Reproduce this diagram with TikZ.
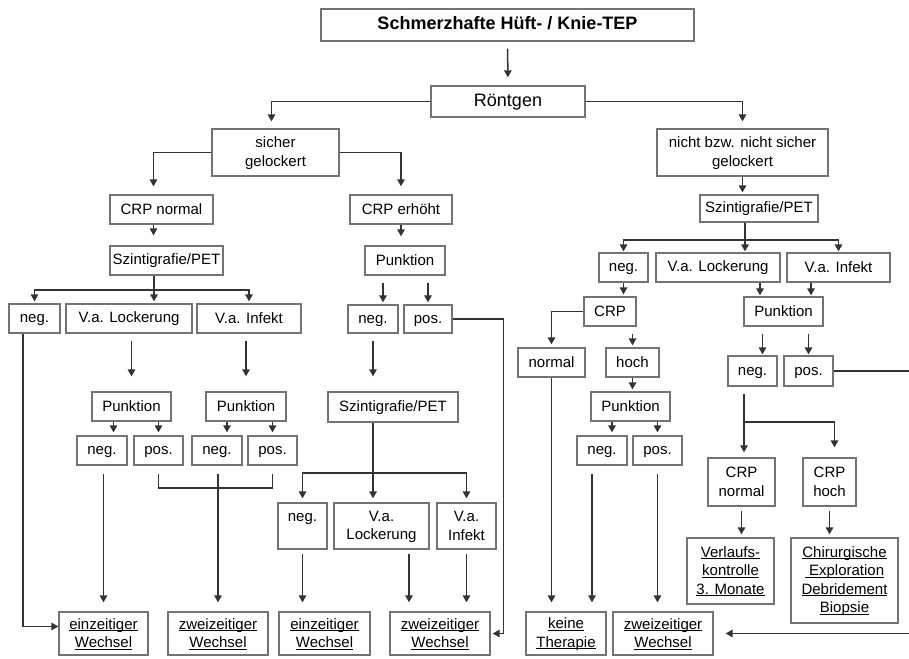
\documentclass[tikz,border=0pt]{standalone}
\usepackage{fontspec}
\setmainfont{Liberation Sans}
\usetikzlibrary{arrows.meta}
\newcommand{\fs}{\fontsize{15}{18.5}\selectfont}
\newcommand{\zs}{\rule[-2.5pt]{0pt}{14.5pt}}
\newcommand{\unterstr}[1]{\zs\underline{\smash{#1}}\vphantom{#1}}
\tikzset{
    box/.style={shape=rectangle, draw=black!55, line width=1.3pt, inner sep=0pt, align=center, font=\fs,
        execute at begin node=\zs},
    kopfbox/.style={box, font=\fontsize{18}{22}\selectfont, execute at begin node={\rule[-3.8pt]{0pt}{17.4pt}}},
    link/.style={draw=black!80, line width=1.5pt},
    flow/.style={link, -{Triangle[length=7pt,width=7.5pt]}}
}
\begin{document}
\begin{tikzpicture}[x=1pt, y=-1pt]
        \useasboundingbox (0,0) rectangle (909,658);
        % Kopf
        \node (Kopf) [kopfbox, font=\fontsize{18}{22}\selectfont\bfseries, minimum width=373pt, minimum height=32pt] at (507.5,25) {Schmerzhafte Hüft- / Knie-TEP};
        \node (Roentgen) [kopfbox, minimum width=154pt, minimum height=31pt] at (508,101.5) {Röntgen};
        \node (sicher) [box, minimum width=127pt, minimum height=47pt] at (275.5,152.5) {\zs sicher\\\zs gelockert};
        \node (nicht sicher) [box, minimum width=171pt, minimum height=47pt] at (742.5,152.5) {\zs nicht bzw. nicht sicher\\\zs gelockert};

        % linker Zweig
        \node (CRP normal) [box, minimum width=103pt, minimum height=29pt] at (161.5,209.5) {CRP normal};
        \node (Szinti L) [box, minimum width=113pt, minimum height=29pt] at (166.5,260.5) {Szintigrafie/PET};
        \node (neg L) [box, minimum width=51pt, minimum height=29pt] at (34.5,318.5) {neg.};
        \node (Lockerung L) [box, minimum width=126pt, minimum height=29pt] at (129,318.5) {V.a. Lockerung};
        \node (Infekt L) [box, minimum width=104pt, minimum height=29pt] at (249,318.5) {V.a. Infekt};
        \node (Punktion L1) [box, minimum width=79pt, minimum height=29pt] at (131.5,406.5) {Punktion};
        \node (Punktion L2) [box, minimum width=80pt, minimum height=29pt] at (246,406.5) {Punktion};
        \node (neg L1) [box, minimum width=50pt, minimum height=29pt] at (102,450.5) {neg.};
        \node (pos L1) [box, minimum width=49pt, minimum height=29pt] at (158.5,450.5) {pos.};
        \node (neg L2) [box, minimum width=50pt, minimum height=29pt] at (217,450.5) {neg.};
        \node (pos L2) [box, minimum width=49pt, minimum height=29pt] at (272.5,450.5) {pos.};

        % mittlerer Zweig
        \node (CRP erhoeht) [box, minimum width=102pt, minimum height=29pt] at (401,209.5) {CRP erhöht};
        \node (Punktion M) [box, minimum width=80pt, minimum height=29pt] at (405,260.5) {Punktion};
        \node (neg M) [box, minimum width=50pt, minimum height=28pt] at (373,319) {neg.};
        \node (pos M) [box, minimum width=48pt, minimum height=28pt] at (428,319) {pos.};
        \node (Szinti M) [box, minimum width=130pt, minimum height=30pt] at (393,407) {Szintigrafie/PET};
        \node (neg M2) [box, minimum width=49pt, minimum height=46pt] at (302.5,526) {\zs neg.\\\zs};
        \node (Lockerung M) [box, minimum width=95pt, minimum height=46pt] at (381.5,526) {\zs V.a.\\\zs Lockerung};
        \node (Infekt M) [box, minimum width=59pt, minimum height=46pt] at (466.5,526) {\zs V.a.\\\zs Infekt};

        % rechter Zweig
        \node (Szinti R) [box, minimum width=118pt, minimum height=27pt] at (759,208.5) {Szintigrafie/PET};
        \node (neg R) [box, minimum width=49pt, minimum height=29pt] at (623.5,267.5) {neg.};
        \node (Lockerung R) [box, minimum width=124pt, minimum height=29pt] at (718,267.5) {V.a. Lockerung};
        \node (Infekt R) [box, minimum width=103pt, minimum height=29pt] at (838.5,267.5) {V.a. Infekt};
        \node (CRP R) [box, minimum width=52pt, minimum height=29pt] at (610,311.5) {CRP};
        \node (normal R) [box, minimum width=67pt, minimum height=29pt] at (551.5,362.5) {normal};
        \node (hoch R) [box, minimum width=53pt, minimum height=29pt] at (632.5,362.5) {hoch};
        \node (Punktion R1) [box, minimum width=79pt, minimum height=29pt] at (630.5,406.5) {Punktion};
        \node (neg R1) [box, minimum width=50pt, minimum height=29pt] at (602,450.5) {neg.};
        \node (pos R1) [box, minimum width=49pt, minimum height=29pt] at (657.5,450.5) {pos.};
        \node (Punktion R2) [box, minimum width=79pt, minimum height=29pt] at (783.5,311.5) {Punktion};
        \node (neg R2) [box, minimum width=49pt, minimum height=30pt] at (752.5,371) {neg.};
        \node (pos R2) [box, minimum width=49pt, minimum height=30pt] at (808.5,371) {pos.};
        \node (CRP normal R) [box, minimum width=67pt, minimum height=48pt] at (741.5,482) {\zs CRP\\\zs normal};
        \node (CRP hoch R) [box, minimum width=53pt, minimum height=48pt] at (829.5,482) {\zs CRP\\\zs hoch};
        \node (Verlauf) [box, minimum width=87pt, minimum height=66pt] at (730.5,571) {\unterstr{Verlaufs-}\\\unterstr{kontrolle}\\\unterstr{3. Monate}};
        \node (Exploration) [box, minimum width=107pt, minimum height=85pt] at (844.5,580.5) {\unterstr{Chirurgische}\\\unterstr{ Exploration}\\\unterstr{Debridement}\\\unterstr{Biopsie}};

        % Endknoten
        \node (einzeitig 1) [box, minimum width=89pt, minimum height=43pt] at (103.5,633.5) {\unterstr{einzeitiger}\\\unterstr{Wechsel}};
        \node (zweizeitig 1) [box, minimum width=100pt, minimum height=43pt] at (218,633.5) {\unterstr{zweizeitiger}\\\unterstr{Wechsel}};
        \node (einzeitig 2) [box, minimum width=91pt, minimum height=43pt] at (324.5,633.5) {\unterstr{einzeitiger}\\\unterstr{Wechsel}};
        \node (zweizeitig 2) [box, minimum width=100pt, minimum height=43pt] at (440,633.5) {\unterstr{zweizeitiger}\\\unterstr{Wechsel}};
        \node (keine Therapie) [box, minimum width=80pt, minimum height=43pt] at (566,633.5) {\unterstr{keine}\\\unterstr{Therapie}};
        \node (zweizeitig 3) [box, minimum width=100pt, minimum height=43pt] at (663,633.5) {\unterstr{zweizeitiger}\\\unterstr{Wechsel}};

        \coordinate (Bus L) at (154,290);
        \coordinate (Klammer) at (214,488);
        \coordinate (Bus M) at (373,473);
        \coordinate (Bus R) at (745,240);
        \coordinate (Gabel R) at (744,422);

        % oben
        \draw [flow, shorten <=7pt, shorten >=8pt] (Kopf.south) -- (Roentgen.north);
        \draw [flow, shorten >=7pt] (Roentgen.west) -| ([xshift=-4pt]sicher.north);
        \draw [flow, shorten >=7pt] (Roentgen.east) -| (nicht sicher.north);
        \draw [flow, shorten >=8pt] (sicher.west) -| ([xshift=-8pt]CRP normal.north);
        \draw [flow, shorten >=8pt] (sicher.east) -| (CRP erhoeht.north);
        \draw [flow, shorten >=2pt] (nicht sicher.south) -- (nicht sicher.south |- Szinti R.north);

        % links
        \draw [flow, shorten >=10pt] ([xshift=-8pt]CRP normal.south) -- ([xshift=-8pt]CRP normal.south |- Szinti L.north);
        \draw [link] (Szinti L.south -| Bus L) -- (Bus L);
        \draw [flow, shorten >=2pt] (Bus L) -| (neg L.north);
        \draw [flow, shorten >=2pt] (Bus L) -- (Bus L |- Lockerung L.north);
        \draw [flow, shorten >=2pt] (Bus L) -| (Infekt L.north);
        \draw [flow, shorten <=7pt, shorten >=15pt] (Punktion L1.north |- Lockerung L.south) -- (Punktion L1.north);
        \draw [flow, shorten <=7pt, shorten >=15pt] (Punktion L2.north |- Infekt L.south) -- (Punktion L2.north);
        \draw [flow, shorten >=3pt] ([xshift=-18pt]Punktion L1.south) -- ([xshift=-18pt]Punktion L1.south |- neg L1.north);
        \draw [flow, shorten >=3pt] (pos L1.north |- Punktion L1.south) -- (pos L1.north);
        \draw [flow, shorten >=3pt] ([xshift=-19pt]Punktion L2.south) -- ([xshift=-19pt]Punktion L2.south |- neg L2.north);
        \draw [flow, shorten >=3pt] (pos L2.north |- Punktion L2.south) -- (pos L2.north);
        \draw [flow, shorten <=8pt, shorten >=9pt] (einzeitig 1.north |- neg L1.south) -- (einzeitig 1.north);
        \draw [link, shorten <=8pt, shorten >=8pt] (pos L1.south) |- (Klammer) -| (pos L2.south);
        \draw [flow, shorten <=8pt, shorten >=9pt] (zweizeitig 1.north |- neg L2.south) -- (zweizeitig 1.north);
        \draw [flow] ([xshift=-11.5pt]neg L.south) |- ([yshift=7pt]einzeitig 1.west);

        % Mitte
        \draw [flow, shorten >=9pt] (CRP erhoeht.south) -- (CRP erhoeht.south |- Punktion M.north);
        \draw [flow, shorten <=7pt, shorten >=2pt] ([xshift=-22pt]Punktion M.south) -- ([xshift=-22pt]Punktion M.south |- neg M.north);
        \draw [flow, shorten <=7pt, shorten >=2pt] (pos M.north |- Punktion M.south) -- (pos M.north);
        \draw [flow, shorten <=7pt, shorten >=15pt] (neg M.south) -- (neg M.south |- Szinti M.north);
        \draw [flow, shorten >=2pt] (pos M.east) -| ([xshift=13pt]zweizeitig 2.east) -- (zweizeitig 2.east);
        \draw [flow, shorten >=4pt] (Szinti M.south -| Bus M) -- (Bus M |- Lockerung M.north);
        \draw [flow, shorten >=4pt] (Bus M) -| (neg M2.north);
        \draw [flow, shorten >=4pt] (Bus M) -| (Infekt M.north);
        \draw [flow, shorten <=4pt, shorten >=9pt] (neg M2.south) -- (neg M2.south |- einzeitig 2.north);
        \draw [flow, shorten <=4pt, shorten >=9pt] ([xshift=27.5pt]Lockerung M.south) -- ([xshift=27.5pt]Lockerung M.south |- zweizeitig 2.north);
        \draw [flow, shorten <=4pt, shorten >=9pt] (Infekt M.south) -- (Infekt M.south |- zweizeitig 2.north);

        % rechts
        \draw [link] (Szinti R.south -| Bus R) -- (Bus R);
        \draw [flow, shorten >=1pt] (Bus R) -| (neg R.north);
        \draw [flow, shorten >=1pt] (Bus R) -- (Bus R |- Lockerung R.north);
        \draw [flow, shorten >=1pt] (Bus R) -| (Infekt R.north);
        \draw [flow, shorten >=2pt] (neg R.south) -- (neg R.south |- CRP R.north);
        \draw [flow, shorten >=3pt] (CRP R.west) -| (normal R.north);
        \draw [flow, shorten <=7pt, shorten >=2pt] (hoch R.north |- CRP R.south) -- (hoch R.north);
        \draw [flow, shorten >=2pt] (hoch R.south) -- (hoch R.south |- Punktion R1.north);
        \draw [flow, shorten >=3pt] ([xshift=-18.5pt]Punktion R1.south) -- ([xshift=-18.5pt]Punktion R1.south |- neg R1.north);
        \draw [flow, shorten >=3pt] (pos R1.north |- Punktion R1.south) -- (pos R1.north);
        \draw [flow, shorten >=9pt] (normal R.south) -- (normal R.south |- keine Therapie.north);
        \draw [flow, shorten <=8pt, shorten >=9pt] ([xshift=-10pt]neg R1.south) -- ([xshift=-10pt]neg R1.south |- keine Therapie.north);
        \draw [flow, shorten <=8pt, shorten >=9pt] (pos R1.south) -- (pos R1.south |- zweizeitig 3.north);
        \draw [flow, shorten >=1pt] ([xshift=-23.5pt]Punktion R2.north |- Lockerung R.south) -- ([xshift=-23.5pt]Punktion R2.north);
        \draw [flow, shorten >=1pt] ([xshift=27.5pt]Punktion R2.north |- Infekt R.south) -- ([xshift=27.5pt]Punktion R2.north);
        \draw [flow, shorten <=7pt, shorten >=1pt] ([xshift=10pt]neg R2.north |- Punktion R2.south) -- ([xshift=10pt]neg R2.north);
        \draw [flow, shorten <=7pt, shorten >=1pt] (pos R2.north |- Punktion R2.south) -- (pos R2.north);
        \draw [flow, shorten >=12pt] (pos R2.east) -| ([xshift=200pt]zweizeitig 3.east) -- (zweizeitig 3.east);
        \draw [flow, shorten <=7pt, shorten >=5pt] ([xshift=-8.5pt]neg R2.south) -- ([xshift=-8.5pt]neg R2.south |- CRP normal R.north);
        \draw [flow, shorten >=10pt] (Gabel R) -| ([xshift=5pt]CRP hoch R.north);
        \draw [flow, shorten <=4pt, shorten >=3pt] (CRP normal R.south) -- (CRP normal R.south |- Verlauf.north);
        \draw [flow, shorten <=4pt, shorten >=3pt] (CRP hoch R.south) -- (CRP hoch R.south |- Exploration.north);
    \end{tikzpicture}
\end{document}
